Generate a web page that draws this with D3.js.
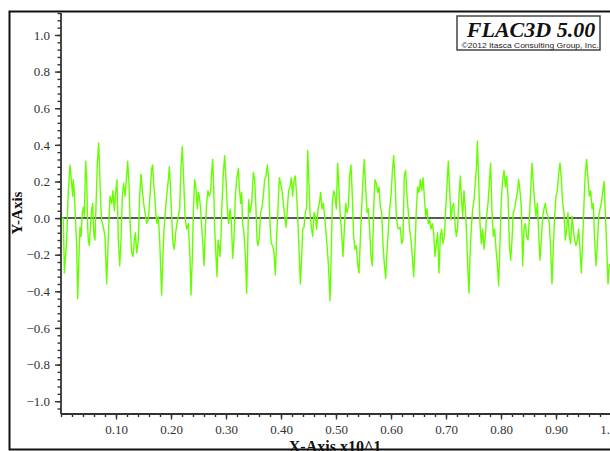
<!DOCTYPE html>
<html>
<head>
<meta charset="utf-8">
<script src="https://cdn.jsdelivr.net/npm/d3@7"></script>
<style>
  html, body { margin: 0; padding: 0; background: #fff; }
  svg { display: block; }
</style>
</head>
<body>
<svg id="chart" width="610" height="451"></svg>
<script>
// ---- data (x in units of 10^1, y dimensionless) ----
const xTickLabels = [0.10, 0.20, 0.30, 0.40, 0.50, 0.60, 0.70, 0.80, 0.90, 1.00];
const yTickLabels = [-1.0, -0.8, -0.6, -0.4, -0.2, 0.0, 0.2, 0.4, 0.6, 0.8, 1.0];

const xs = [
0.0000,0.0012,0.0042,0.0061,0.0103,0.0133,0.0164,0.0194,0.0212,0.0224,0.0242,0.0267,0.0285,0.0303,0.0327,0.0345,0.0364,0.0388,0.0406,0.0424,
0.0448,0.0467,0.0485,0.0497,0.0515,0.0533,0.0558,0.0576,0.0600,0.0618,0.0642,0.0661,0.0685,0.0703,0.0721,0.0739,0.0770,0.0800,0.0830,0.0848,
0.0873,0.0891,0.0921,0.0945,0.0970,0.0994,0.1018,0.1042,0.1067,0.1091,0.1115,0.1139,0.1164,0.1194,0.1212,0.1236,0.1261,0.1285,0.1309,0.1333,
0.1352,0.1376,0.1406,0.1430,0.1455,0.1479,0.1503,0.1527,0.1558,0.1588,0.1618,0.1648,0.1667,0.1685,0.1709,0.1727,0.1745,0.1770,0.1794,0.1818,
0.1830,0.1848,0.1873,0.1891,0.1921,0.1952,0.1970,0.1988,0.2012,0.2036,0.2061,0.2085,0.2109,0.2133,0.2158,0.2182,0.2206,0.2230,0.2255,0.2285,
0.2315,0.2345,0.2364,0.2388,0.2406,0.2430,0.2455,0.2479,0.2497,0.2515,0.2539,0.2558,0.2576,0.2600,0.2624,0.2648,0.2673,0.2697,0.2721,0.2739,
0.2758,0.2776,0.2794,0.2818,0.2836,0.2855,0.2873,0.2891,0.2909,0.2927,0.2952,0.2976,0.3000,0.3024,0.3048,0.3073,0.3097,0.3121,0.3145,0.3170,
0.3194,0.3224,0.3242,0.3267,0.3285,0.3303,0.3327,0.3352,0.3376,0.3394,0.3412,0.3436,0.3467,0.3497,0.3521,0.3545,0.3564,0.3582,0.3606,0.3630,
0.3655,0.3679,0.3703,0.3727,0.3752,0.3776,0.3800,0.3824,0.3848,0.3873,0.3897,0.3921,0.3945,0.3970,0.3994,0.4018,0.4042,0.4067,0.4091,0.4115,
0.4139,0.4164,0.4188,0.4212,0.4236,0.4261,0.4285,0.4309,0.4333,0.4352,0.4376,0.4394,0.4418,0.4442,0.4467,0.4485,0.4503,0.4527,0.4552,0.4576,
0.4600,0.4624,0.4648,0.4673,0.4697,0.4721,0.4745,0.4770,0.4794,0.4830,0.4861,0.4891,0.4909,0.4933,0.4958,0.4982,0.5006,0.5030,0.5055,0.5079,
0.5103,0.5127,0.5152,0.5176,0.5200,0.5224,0.5248,0.5273,0.5297,0.5321,0.5345,0.5370,0.5394,0.5418,0.5442,0.5467,0.5491,0.5515,0.5539,0.5564,
0.5588,0.5612,0.5636,0.5661,0.5685,0.5709,0.5733,0.5758,0.5782,0.5806,0.5830,0.5855,0.5879,0.5903,0.5927,0.5952,0.5976,0.6000,0.6024,0.6048,
0.6073,0.6097,0.6121,0.6145,0.6170,0.6194,0.6218,0.6242,0.6267,0.6291,0.6315,0.6339,0.6364,0.6388,0.6412,0.6436,0.6461,0.6485,0.6509,0.6533,
0.6558,0.6582,0.6606,0.6630,0.6655,0.6679,0.6703,0.6727,0.6752,0.6776,0.6800,0.6824,0.6848,0.6873,0.6897,0.6921,0.6945,0.6970,0.6994,0.7018,
0.7042,0.7067,0.7091,0.7115,0.7139,0.7164,0.7188,0.7212,0.7236,0.7261,0.7279,0.7303,0.7327,0.7352,0.7376,0.7400,0.7418,0.7436,0.7461,0.7485,
0.7509,0.7533,0.7558,0.7570,0.7594,0.7618,0.7642,0.7667,0.7691,0.7715,0.7739,0.7764,0.7788,0.7812,0.7836,0.7861,0.7885,0.7909,0.7933,0.7958,
0.7982,0.8006,0.8030,0.8055,0.8079,0.8103,0.8127,0.8152,0.8176,0.8200,0.8224,0.8248,0.8273,0.8297,0.8321,0.8345,0.8370,0.8394,0.8418,0.8442,
0.8467,0.8491,0.8515,0.8539,0.8564,0.8588,0.8612,0.8636,0.8661,0.8685,0.8709,0.8733,0.8758,0.8782,0.8806,0.8830,0.8855,0.8879,0.8903,0.8927,
0.8952,0.8976,0.9000,0.9024,0.9048,0.9073,0.9097,0.9121,0.9145,0.9170,0.9194,0.9218,0.9242,0.9267,0.9291,0.9315,0.9339,0.9364,0.9388,0.9412,
0.9436,0.9461,0.9485,0.9509,0.9533,0.9558,0.9582,0.9606,0.9630,0.9655,0.9679,0.9703,0.9727,0.9752,0.9776,0.9800,0.9824,0.9848,0.9873,0.9897,
0.9921,0.9945,0.9970
];

const ys = [
0.00,0.00,0.00,-0.30,-0.12,0.15,0.29,0.19,0.12,0.21,0.14,-0.03,-0.15,-0.44,-0.21,-0.05,-0.10,0.03,0.06,0.01,
0.31,0.21,-0.05,-0.12,-0.15,-0.06,0.05,0.08,-0.10,-0.12,0.12,0.30,0.41,0.26,0.08,-0.01,-0.05,-0.10,-0.36,-0.21,
-0.01,0.12,0.08,0.15,0.04,0.14,0.21,-0.12,-0.26,-0.12,0.12,0.19,0.12,0.23,0.31,0.19,-0.06,-0.19,-0.21,-0.12,
-0.08,-0.19,-0.12,0.12,0.24,0.15,0.08,0.03,-0.03,-0.01,0.12,0.27,0.29,0.19,0.10,0.01,-0.03,0.01,-0.12,-0.32,
-0.42,-0.25,-0.06,0.01,0.12,0.21,0.28,0.19,0.01,-0.14,-0.17,-0.08,-0.03,0.01,0.05,0.28,0.39,0.21,0.01,-0.06,
-0.03,-0.21,-0.42,-0.21,0.03,0.21,0.16,0.05,0.14,0.12,0.05,-0.05,-0.12,-0.26,-0.06,0.08,0.15,0.12,0.15,0.25,
0.32,0.17,-0.06,-0.21,-0.32,-0.12,-0.15,-0.21,-0.10,0.08,0.25,0.34,0.21,0.05,-0.03,0.05,-0.01,-0.22,-0.12,0.12,
0.21,0.27,0.17,0.08,0.14,-0.03,-0.08,-0.21,-0.41,-0.17,0.10,0.03,0.08,0.25,0.21,0.05,-0.12,-0.15,-0.10,0.03,
0.06,0.12,0.21,0.23,0.29,0.21,-0.03,-0.14,-0.15,-0.19,-0.31,-0.10,0.05,0.22,0.19,0.15,0.08,0.01,-0.05,0.05,
0.15,0.17,0.22,0.12,0.21,0.23,0.12,-0.03,-0.21,-0.36,-0.21,-0.06,-0.05,0.03,0.06,0.37,0.23,0.03,-0.05,-0.10,
0.03,0.01,-0.06,0.05,0.08,0.14,0.05,0.08,0.01,-0.12,-0.25,-0.45,-0.25,0.08,0.15,0.12,0.05,0.30,0.15,0.01,
-0.08,-0.21,-0.06,0.08,0.03,0.06,0.23,0.29,0.12,-0.10,-0.17,-0.15,-0.25,-0.30,-0.12,0.06,0.21,0.32,0.17,0.03,
0.05,-0.06,-0.21,-0.26,0.05,0.21,0.19,0.14,0.17,0.06,0.03,-0.15,-0.25,-0.33,-0.19,-0.06,0.05,0.12,0.25,0.34,
0.21,0.01,-0.05,-0.06,-0.05,-0.14,-0.12,0.23,0.26,0.12,0.03,-0.06,-0.12,-0.21,-0.32,-0.17,0.05,0.17,0.14,0.21,
0.15,0.22,0.12,0.01,0.05,-0.03,-0.01,-0.06,-0.03,-0.08,-0.21,-0.14,-0.08,-0.30,-0.10,-0.06,-0.14,-0.10,0.05,0.18,
0.31,0.15,-0.01,0.06,0.08,-0.03,-0.10,-0.05,0.12,0.23,0.12,0.01,0.15,0.05,-0.10,-0.30,-0.41,-0.21,-0.05,0.05,
0.10,0.19,0.30,0.42,0.21,-0.03,-0.14,-0.06,-0.17,-0.10,0.01,0.08,0.19,0.30,0.03,-0.10,-0.06,-0.17,-0.25,-0.37,
-0.12,0.10,0.21,0.26,0.17,0.23,0.12,-0.14,-0.23,-0.12,0.03,0.05,0.10,0.14,0.21,0.15,0.06,-0.26,-0.06,-0.03,
-0.10,-0.12,-0.01,0.15,0.30,0.19,0.08,0.01,0.08,-0.08,-0.23,-0.12,0.01,0.05,0.08,0.03,0.01,-0.03,-0.17,-0.36,
-0.15,0.01,0.12,0.15,0.24,0.30,0.21,0.08,0.03,-0.12,-0.06,0.03,-0.10,-0.14,0.01,-0.06,-0.12,-0.15,-0.12,-0.06,
-0.17,-0.30,-0.12,0.08,0.25,0.32,0.21,0.12,0.15,0.05,0.08,-0.12,-0.26,-0.15,0.01,0.05,0.08,0.14,0.20,0.03,
-0.15,-0.36,-0.25
];

// ---- layout ----
const svg = d3.select("#chart");
const x = d3.scaleLinear().domain([0, 1]).range([61, 611]);
const y = d3.scaleLinear().domain([-1.07, 1.12]).range([414, 13]);

const serif = "Liberation Serif, Times New Roman, serif";
const axisColor = "#333";

// outer frame
svg.append("rect")
  .attr("x", 9.5).attr("y", 11.5)
  .attr("width", 640).attr("height", 438)
  .attr("fill", "none").attr("stroke", "#111").attr("stroke-width", 2);

// zero line
svg.append("line")
  .attr("x1", x(0)).attr("x2", 611)
  .attr("y1", y(0)).attr("y2", y(0))
  .attr("stroke", "#222").attr("stroke-width", 1.5);

// data line
const data = xs.map((d, i) => [d, ys[i]]);
svg.append("path")
  .datum(data)
  .attr("fill", "none")
  .attr("stroke", "#66ff00")
  .attr("stroke-width", 1.4)
  .attr("stroke-linejoin", "round")
  .attr("d", d3.line().x(d => x(d[0])).y(d => y(d[1])));

// ---- Y axis ----
const yMinor = d3.range(-26, 29).map(i => +(i * 0.04).toFixed(2));
const yMinorAxis = d3.axisLeft(y).tickValues(yMinor).tickSize(3.5).tickFormat("");
const gyMinor = svg.append("g").attr("transform", `translate(${x(0)},0)`).call(yMinorAxis);
gyMinor.select(".domain").remove();

const yAxis = d3.axisLeft(y).tickValues(yTickLabels).tickSize(6).tickPadding(5)
  .tickFormat(d3.format(".1f"));
const gy = svg.append("g").attr("transform", `translate(${x(0)},0)`).call(yAxis);
gy.select(".domain").attr("d", `M0,${y.range()[1]}V${y.range()[0]}`);

// ---- X axis ----
const xMinor = d3.range(0, 51).map(i => +(i * 0.02).toFixed(2));
const xMinorAxis = d3.axisBottom(x).tickValues(xMinor).tickSize(3).tickFormat("");
const gxMinor = svg.append("g").attr("transform", `translate(0,${y(-1.07)})`).call(xMinorAxis);
gxMinor.select(".domain").remove();

const xAxis = d3.axisBottom(x).tickValues(xTickLabels).tickSize(5.5).tickPadding(5)
  .tickFormat(d3.format(".2f"));
const gx = svg.append("g").attr("transform", `translate(0,${y(-1.07)})`).call(xAxis);
gx.select(".domain").attr("d", `M${x(0)},0H611`);

[gy, gx, gyMinor, gxMinor].forEach(g => {
  g.attr("font-family", serif).attr("font-size", 13);
  g.selectAll("line").attr("stroke", axisColor).attr("stroke-width", 1.4);
  g.selectAll(".domain").attr("stroke", axisColor).attr("stroke-width", 1.8);
  g.selectAll("text").attr("fill", axisColor)
    .attr("font-family", serif).attr("font-size", 13);
});

// axis titles
svg.append("text")
  .attr("x", 335).attr("y", 452)
  .attr("text-anchor", "middle")
  .attr("font-family", serif).attr("font-weight", "bold").attr("font-size", 16)
  .attr("fill", "#111")
  .text("X-Axis x10^1");

svg.append("text")
  .attr("transform", "translate(21.5,213) rotate(-90)")
  .attr("text-anchor", "middle")
  .attr("font-family", serif).attr("font-weight", "bold").attr("font-size", 15)
  .attr("fill", "#111")
  .text("Y-Axis");

// title box
svg.append("rect")
  .attr("x", 457).attr("y", 16).attr("width", 143).attr("height", 34)
  .attr("fill", "#fff").attr("stroke", "#444").attr("stroke-width", 1.5);
svg.append("text")
  .attr("x", 531).attr("y", 36.5)
  .attr("text-anchor", "middle")
  .attr("font-family", serif).attr("font-weight", "bold").attr("font-style", "italic")
  .attr("font-size", 22).attr("fill", "#111")
  .text("FLAC3D 5.00");
svg.append("text")
  .attr("x", 530).attr("y", 47.5)
  .attr("text-anchor", "middle")
  .attr("textLength", 137).attr("lengthAdjust", "spacingAndGlyphs")
  .attr("font-family", "Liberation Sans, Arial, sans-serif")
  .attr("font-size", 7.5).attr("fill", "#222")
  .text("©2012 Itasca Consulting Group, Inc.");
</script>
</body>
</html>
